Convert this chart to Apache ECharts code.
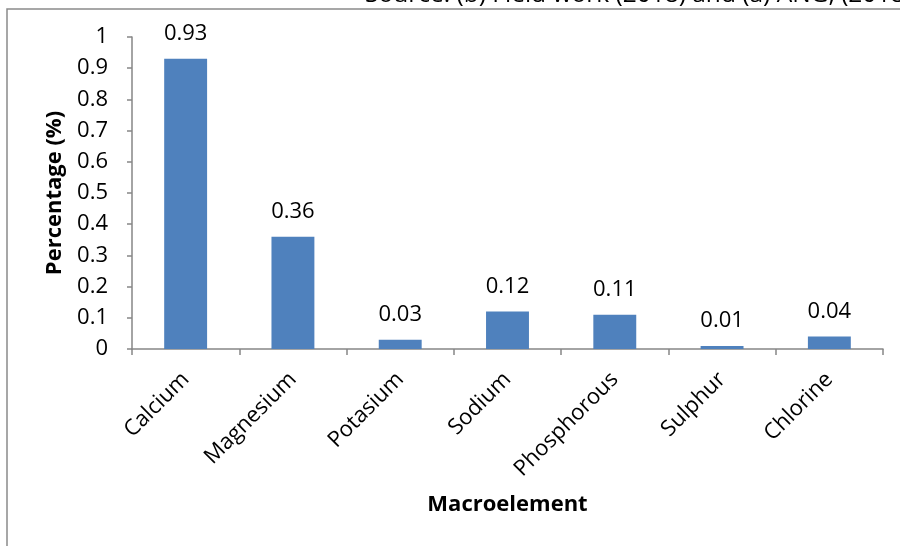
<!DOCTYPE html>
<html><head><meta charset="utf-8">
<script src="https://cdn.jsdelivr.net/npm/echarts@6/dist/echarts.min.js"></script>
<style>html,body{margin:0;padding:0;background:#fff}#c{width:900px;height:546px}</style>
</head><body><div id="c"></div>
<script>
var categories = ['Calcium','Magnesium','Potasium','Sodium','Phosphorous','Sulphur','Chlorine'];
var values = [0.93, 0.36, 0.03, 0.12, 0.11, 0.01, 0.04];
var yTicks = [0, 0.1, 0.2, 0.3, 0.4, 0.5, 0.6, 0.7, 0.8, 0.9, 1];
var sourceText = 'Source: (b) Field work (2018) and (a) ANG, (2018)';
var FONT = '"Open Sans", sans-serif';
var chart = echarts.init(document.getElementById('c'), null, {renderer:'canvas'});
chart.setOption({
  animation:false,
  graphic:[
    {type:'rect', shape:{x:7, y:9, width:1000, height:1000}, style:{fill:'none', stroke:'#8a8a8a', lineWidth:1.5}, z:-1},
    {type:'text', x:365, y:-5, style:{text:sourceText, font:'24.5px '+FONT, fill:'#000', verticalAlign:'middle', align:'left'}}
  ],
  grid:{left:132, right:17, top:37, bottom:197, containLabel:false},
  xAxis:{type:'category', data:categories,
    axisLine:{lineStyle:{color:'#868686', width:1.5}},
    axisTick:{show:true, length:6, alignWithLabel:false, lineStyle:{color:'#868686', width:1.5}},
    axisLabel:{rotate:45, margin:27, color:'#000', fontSize:22, fontFamily:FONT, interval:0},
    name:'Macroelement', nameLocation:'middle', nameGap:145,
    nameTextStyle:{fontSize:22, fontWeight:'bold', color:'#000', fontFamily:FONT}
  },
  yAxis:{type:'value', min:0, max:1, interval:0.1,
    axisLine:{show:true, lineStyle:{color:'#868686', width:1.5}},
    axisTick:{show:true, length:5, lineStyle:{color:'#868686', width:1.5}},
    splitLine:{show:false},
    axisLabel:{margin:24, color:'#000', fontSize:22, fontFamily:FONT,
      formatter:function(v){ var r=yTicks.find(function(t){return Math.abs(t-v)<1e-9;}); return r===undefined?'':String(r);} },
    name:'Percentage (%)', nameLocation:'middle', nameGap:66, nameRotate:90,
    nameTextStyle:{fontSize:22, fontWeight:'bold', color:'#000', fontFamily:FONT}
  },
  series:[{type:'bar', data:values, barWidth:'40%',
    itemStyle:{color:'#4F81BD'},
    label:{show:true, position:'top', distance:14, color:'#000', fontSize:22, fontFamily:FONT}
  }]
});
</script></body></html>
